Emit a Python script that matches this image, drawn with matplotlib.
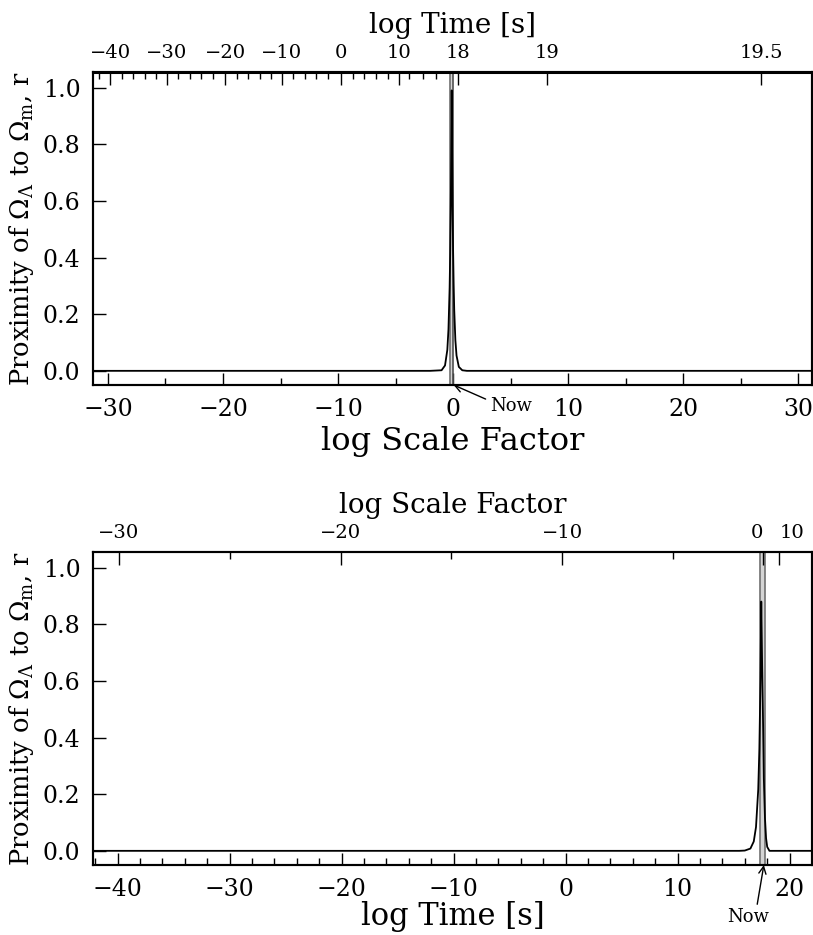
import matplotlib
matplotlib.use('Agg')
import matplotlib.pyplot as plt

plt.rcParams['font.family'] = 'DejaVu Serif'
plt.rcParams['mathtext.fontset'] = 'dejavuserif'

# proximity curve (x = log scale factor)
log_a = [-31.3, -2.0, -1.0, -0.7, -0.5, -0.4, -0.3, -0.25, -0.2, -0.16, -0.12,
         -0.08, -0.04, 0.0, 0.05, 0.1, 0.2, 0.3, 0.5, 0.8, 1.2, 31.2]
r_a = [0.0, 0.0, 0.002, 0.019, 0.074, 0.147, 0.293, 0.415, 0.585, 0.77, 0.99,
       0.75, 0.57, 0.43, 0.305, 0.215, 0.108, 0.054, 0.014, 0.002, 0.0, 0.0]

# proximity curve (x = log time [s])
log_t = [-42.2, 15.5, 16.0, 16.5, 16.8, 17.0, 17.2, 17.3, 17.4, 17.47,
         17.55, 17.64, 17.7, 17.8, 17.9, 18.0, 18.2, 22.0]
r_t = [0.0, 0.0, 0.001, 0.008, 0.033, 0.084, 0.217, 0.359, 0.606, 0.88,
       0.65, 0.43, 0.255, 0.116, 0.044, 0.014, 0.0, 0.0]

# grey window around "now"
band_a = (-0.3, 0.0)
band_t = (17.38, 17.82)
now_a = 0.0
now_t = 17.7

# top axis of the upper panel: log time labels placed on the log a scale
time_labels = ['\u221240', '\u221230', '\u221220', '\u221210', '0', '10', '18', '19', '19.5']
time_pos = [-29.8, -24.9, -19.8, -14.9, -9.75, -4.7, 0.45, 8.2, 26.8]
time_minor = [-30.8, -28.8, -27.8, -26.8, -25.8, -23.9, -22.9, -21.9, -20.9,
              -18.8, -17.8, -16.8, -15.8, -13.9, -12.9, -11.9, -10.9,
              -8.74, -7.78, -6.70, -5.69, -3.8, -2.64, -1.47]

# top axis of the lower panel: log a labels placed on the log t scale
scale_labels = ['\u221230', '\u221220', '\u221210', '0', '10']
scale_pos = [-39.9, -20.1, -0.3, 17.64, 19.08]
scale_minor = [-30.0, -10.2, 9.6]

ylab = r'Proximity of $\Omega_\Lambda$ to $\Omega_{\rm m}$, r'

fig = plt.figure(figsize=(8.13, 9.35), dpi=100)
W, H = 813.0, 935.0
ax1 = fig.add_axes([93 / W, 1 - 385 / H, (812 - 93) / W, (385 - 72) / H])
ax2 = fig.add_axes([93 / W, 1 - 865 / H, (812 - 93) / W, (865 - 552) / H])

def style(ax):
    for s in ax.spines.values():
        s.set_linewidth(1.5)
    ax.tick_params(which='both', direction='in', width=1.0)
    ax.tick_params(which='major', length=9)
    ax.tick_params(which='minor', length=5)

# ---- upper panel
ax1.axvspan(band_a[0], band_a[1], color='#d4d4d4', lw=0)
ax1.axvline(band_a[0], color='#707070', lw=1.2)
ax1.axvline(band_a[1], color='#505050', lw=1.2)
ax1.plot(log_a, r_a, color='black', lw=1.3)
ax1.set_xlim(-31.3, 31.2)
ax1.set_ylim(-0.05, 1.055)
ax1.set_xticks([-30, -20, -10, 0, 10, 20, 30])
ax1.set_xticks([-25, -15, -5, 5, 15, 25], minor=True)
ax1.set_xticklabels(['\u221230', '\u221220', '\u221210', '0', '10', '20', '30'])
ax1.set_yticks([0, 0.2, 0.4, 0.6, 0.8, 1.0])
ax1.set_yticklabels(['0.0', '0.2', '0.4', '0.6', '0.8', '1.0'])
style(ax1)
ax1.tick_params(axis='x', labelsize=17, pad=9, top=False)
ax1.tick_params(axis='y', labelsize=17, pad=9, right=False)
ax1.set_xlabel('log Scale Factor', fontsize=23, labelpad=4)
ax1.set_ylabel(ylab, fontsize=18.5, labelpad=5)

t1 = ax1.twiny()
t1.set_xlim(ax1.get_xlim())
t1.set_xticks(time_pos)
t1.set_xticklabels(time_labels)
t1.set_xticks(time_minor, minor=True)
style(t1)
t1.spines['top'].set_linewidth(2.2)
t1.tick_params(axis='x', labelsize=14, pad=7)
t1.set_xlabel('log Time [s]', fontsize=20, labelpad=8)

ax1.annotate('Now', xy=(now_a + 0.05, -0.05), xytext=(5.0, -0.125),
             fontsize=13, ha='center', va='center', annotation_clip=False,
             arrowprops=dict(arrowstyle='->', lw=1.0, color='black',
                             shrinkA=1, shrinkB=0, relpos=(0.0, 0.8)))

# ---- lower panel
ax2.axvspan(band_t[0], band_t[1], color='#d4d4d4', lw=0)
ax2.axvline(band_t[0], color='#707070', lw=1.2)
ax2.axvline(band_t[1], color='#707070', lw=1.2)
ax2.plot(log_t, r_t, color='black', lw=1.3)
ax2.set_xlim(-42.2, 22.0)
ax2.set_ylim(-0.05, 1.055)
ax2.set_xticks([-40, -30, -20, -10, 0, 10, 20])
ax2.set_xticks([v for v in range(-42, 23, 2) if v % 10 != 0], minor=True)
ax2.set_xticklabels(['\u221240', '\u221230', '\u221220', '\u221210', '0', '10', '20'])
ax2.set_yticks([0, 0.2, 0.4, 0.6, 0.8, 1.0])
ax2.set_yticklabels(['0.0', '0.2', '0.4', '0.6', '0.8', '1.0'])
style(ax2)
ax2.tick_params(axis='x', labelsize=17, pad=9, top=False)
ax2.tick_params(axis='y', labelsize=17, pad=9, right=False)
ax2.set_xlabel('log Time [s]', fontsize=22, labelpad=0)
ax2.set_ylabel(ylab, fontsize=18.5, labelpad=5)

t2 = ax2.twiny()
t2.set_xlim(ax2.get_xlim())
t2.set_xticks(scale_pos)
t2.set_xticklabels(scale_labels)
t2.set_xticks(scale_minor, minor=True)
style(t2)
t2.tick_params(axis='x', labelsize=14, pad=7)
t2.get_xticklabels()[3].set_ha('right')
t2.get_xticklabels()[4].set_ha('left')
t2.set_xlabel('log Scale Factor', fontsize=20, labelpad=8)

ax2.annotate('Now', xy=(now_t, -0.05), xytext=(16.3, -0.235),
             fontsize=13, ha='center', va='center', annotation_clip=False,
             arrowprops=dict(arrowstyle='->', lw=1.0, color='black',
                             shrinkA=1, shrinkB=0, relpos=(0.7, 1.0)))

fig.savefig('out.png', dpi=100)
